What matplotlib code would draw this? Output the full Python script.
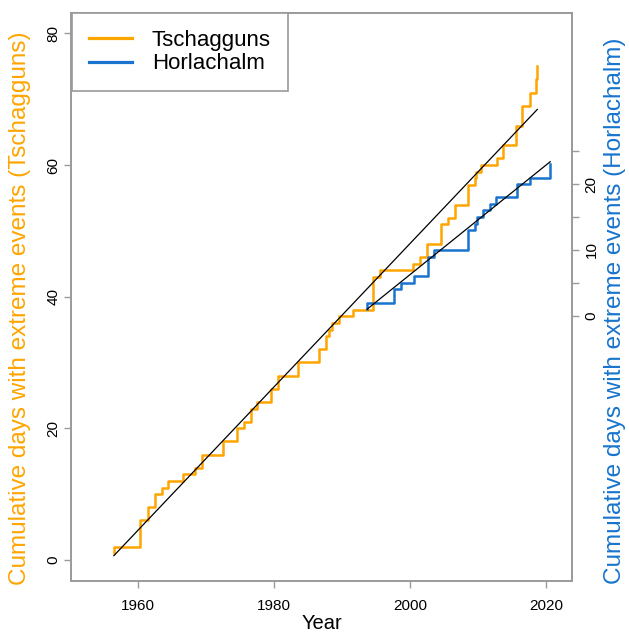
import matplotlib
matplotlib.use("Agg")
import matplotlib.pyplot as plt
import numpy as np

plt.rcParams['font.family'] = ['Liberation Sans', 'DejaVu Sans']

# ---------------- data ----------------
t_years = [1956.5, 1956.5, 1960.4, 1961.5, 1962.6, 1963.5, 1964.5, 1966.7, 1968.4,
           1969.5, 1972.5, 1974.6, 1975.6, 1976.6, 1977.5, 1979.6, 1980.6, 1983.6,
           1986.6, 1987.7, 1988.05, 1988.5, 1989.6, 1991.7, 1994.6, 1995.6, 2000.5,
           2001.4, 2002.5, 2004.6, 2005.6, 2006.6, 2008.55, 2009.5, 2009.7, 2010.5,
           2012.8, 2013.7, 2015.6, 2016.5, 2017.6, 2018.5, 2018.7]
t_values = [1, 2, 6, 8, 10, 11, 12, 13, 14, 16, 18, 20, 21, 23, 24, 26, 28, 30, 32,
            34, 35, 36, 37, 38, 43, 44, 45, 46, 48, 51, 52, 54, 57, 58, 59, 60, 61,
            63, 66, 69, 71, 73, 75]

h_years = [1993.7, 1993.7, 1997.7, 1998.7, 2000.6, 2002.65, 2003.6, 2008.55, 2009.6,
           2009.8, 2010.7, 2011.7, 2012.7, 2015.7, 2017.6, 2020.6]
h_values = [1, 2, 4, 5, 6, 9, 10, 13, 14, 15, 16, 17, 18, 20, 21, 23]

# linear trends (start value, slope per year)
t_trend_start, t_trend_slope = 0.65, 1.09
h_trend_start, h_trend_slope = 1.0, 0.833

x_ticks = [1960, 1980, 2000, 2020]
left_ticks = [0, 20, 40, 60, 80]
right_ticks = [0, 5, 10, 15, 20, 25]
right_labels = ['0', '', '10', '', '20', '']

series_names = ['Tschagguns', 'Horlachalm']

ORANGE = '#FFA500'
BLUE = '#1874CD'
GRAY = '#9a9a9a'

# ---------------- figure ----------------
fig = plt.figure(figsize=(6.29, 6.34), dpi=100)
W, H = 629, 634
L, R, T, B = 71, 572, 13, 581
ax = fig.add_axes([L / W, 1 - B / H, (R - L) / W, (B - T) / H])
ax2 = ax.twinx()

ax.set_xlim(1950.2, 2023.8)
ax.set_ylim(-3.2, 83.1)
ax2.set_ylim(-40.3, 46.0)

l1, = ax.plot(t_years, t_values, drawstyle='steps-post', color=ORANGE, lw=1.8,
              label=series_names[0], zorder=3)
tx = np.array([t_years[0], t_years[-1]])
ax.plot(tx, t_trend_start + t_trend_slope * (tx - tx[0]), color='black', lw=0.9, zorder=4)

l2, = ax2.plot(h_years, h_values, drawstyle='steps-post', color=BLUE, lw=1.8,
               label=series_names[1], zorder=3)
hx = np.array([h_years[0], h_years[-1]])
ax2.plot(hx, h_trend_start + h_trend_slope * (hx - hx[0]), color='black', lw=0.9, zorder=4)

for a in (ax, ax2):
    for s in a.spines.values():
        s.set_color(GRAY)
        s.set_linewidth(1.2)

ax.set_xticks(x_ticks)
ax.set_yticks(left_ticks)
ax2.set_yticks(right_ticks)
ax2.set_yticklabels(right_labels)

ax.tick_params(axis='x', direction='out', length=5, width=1, color=GRAY,
               labelsize=11, labelcolor='black', pad=8)
ax.tick_params(axis='y', direction='out', length=5, width=1, color=GRAY,
               labelsize=11, labelcolor='black', pad=2.5)
ax2.tick_params(axis='y', direction='out', length=5, width=1, color=GRAY,
                labelsize=11, labelcolor='black', pad=4)
for lab in ax.get_yticklabels():
    lab.set_rotation(90)
    lab.set_va('center')
for lab in ax2.get_yticklabels():
    lab.set_rotation(90)
    lab.set_va('center')

ax.set_xlabel('Year', fontsize=14.5, labelpad=1)
ax.set_ylabel('Cumulative days with extreme events (Tschagguns)', color=ORANGE,
              fontsize=17.5)
ax.yaxis.set_label_coords(-0.079, 0.48)
ax2.set_ylabel('Cumulative days with extreme events (Horlachalm)', color=BLUE,
               fontsize=17.5, rotation=90)
ax2.yaxis.set_label_coords(1.064, 0.475)

leg = ax2.legend(handles=[l1, l2], loc='upper left',
                 bbox_to_anchor=((72 - L) / (R - L), 1.0), borderaxespad=0,
                 fancybox=False, edgecolor=GRAY, framealpha=1, fontsize=16,
                 handlelength=1.95, handletextpad=0.9, borderpad=0.75,
                 labelspacing=0.12)
leg.get_frame().set_linewidth(1.2)
for ln in leg.get_lines():
    ln.set_linewidth(2.3)

fig.savefig('out.png', dpi=100)
